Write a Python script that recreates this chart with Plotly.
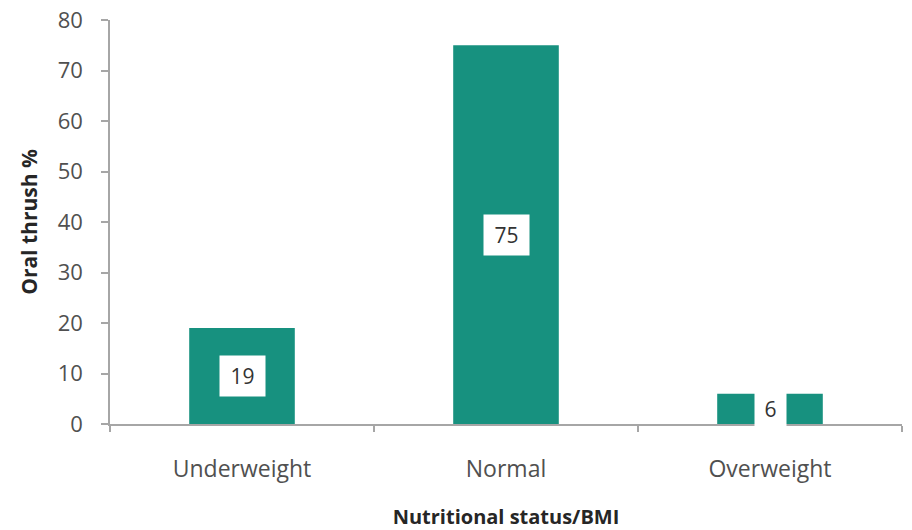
import plotly.graph_objects as go

categories = ["Underweight", "Normal", "Overweight"]
values = [19, 75, 6]
y_ticks = [0, 10, 20, 30, 40, 50, 60, 70, 80]

bar_color = "#17917f"
text_color = "#505050"
title_color = "#262626"
font_family = "Open Sans, Liberation Sans, sans-serif"

fig = go.Figure()
fig.add_trace(go.Bar(
    x=categories, y=values,
    marker=dict(color=bar_color, line=dict(width=0)),
    width=0.4,
    hoverinfo="x+y",
))

for c, v in zip(categories, values):
    label = str(v)
    fig.add_annotation(
        x=c, y=v / 2, text=label, showarrow=False,
        bgcolor="white", borderpad=6,
        width=14 * len(label) + 5, height=28,
        font=dict(size=21, color="#333333", family=font_family),
    )

fig.update_layout(
    width=912, height=530,
    margin=dict(l=110, r=10, t=20, b=106),
    paper_bgcolor="white", plot_bgcolor="white",
    showlegend=False,
    font=dict(family=font_family, color=text_color, size=22),
    xaxis=dict(
        automargin=False,
        showline=True, linecolor="#a6a6a6", linewidth=1.5,
        ticks="outside", ticklen=6, tickcolor="#a6a6a6", tickwidth=1.5,
        tickson="boundaries", ticklabelstandoff=24,
        tickfont=dict(size=23, color=text_color),
        title=dict(text="<b>Nutritional status/BMI</b>", standoff=30,
                   font=dict(size=20, color=title_color)),
        showgrid=False,
    ),
    yaxis=dict(
        automargin=False,
        range=[0, 80], tickvals=y_ticks,
        ticklabeloverflow="allow",
        showline=True, linecolor="#a6a6a6", linewidth=1.5,
        ticks="outside", ticklen=7, tickcolor="#a6a6a6", tickwidth=1.5,
        ticklabelstandoff=14,
        tickfont=dict(size=22, color=text_color),
        title=dict(text="<b>Oral thrush %</b>", standoff=14,
                   font=dict(size=21, color=title_color)),
        showgrid=False, zeroline=False,
    ),
)

fig.write_html("out.html", config={"displayModeBar": False},
               post_script="document.body.style.margin='0';")
